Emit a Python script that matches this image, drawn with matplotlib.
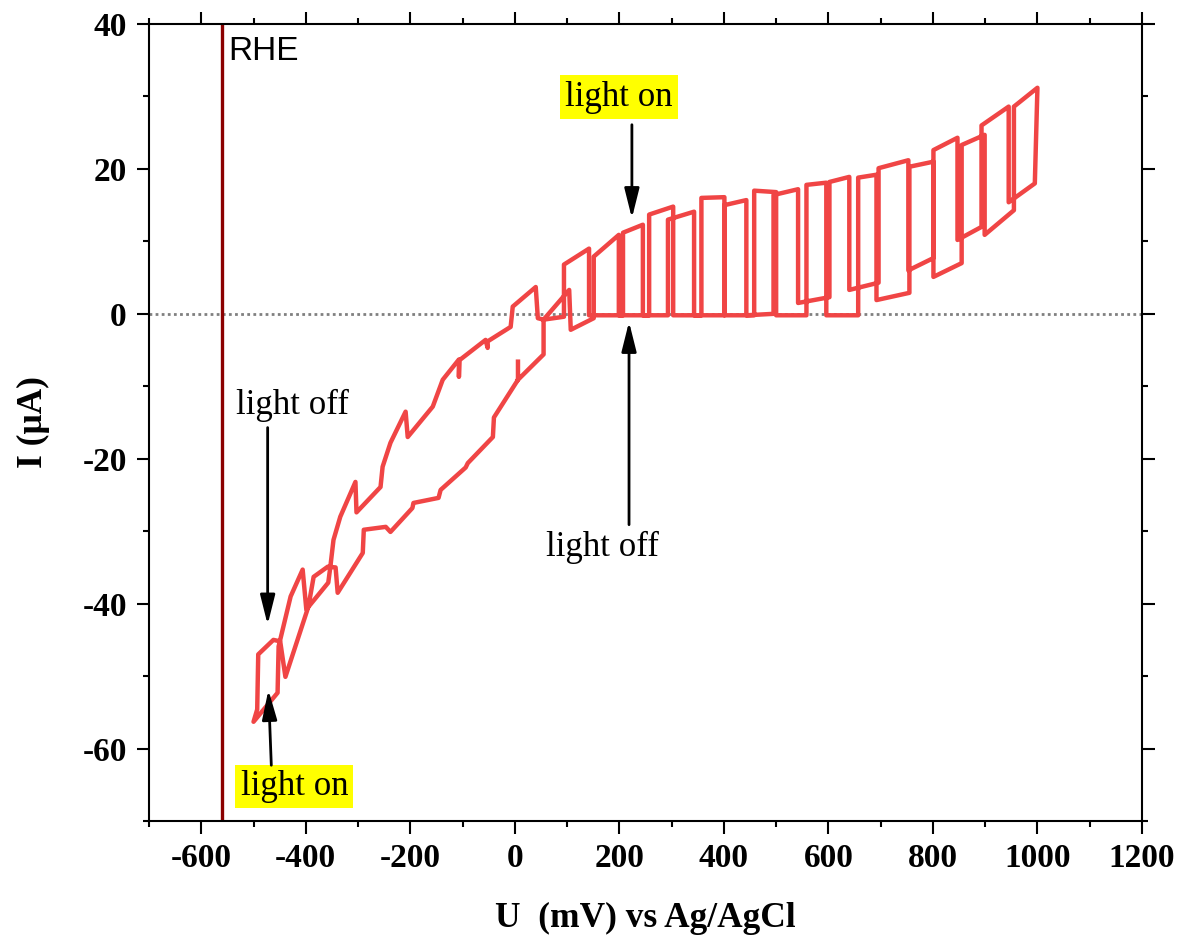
import numpy as np
import matplotlib.pyplot as plt
from matplotlib.ticker import MultipleLocator

# --- chopped CV (U in mV vs Ag/AgCl, I in uA) ---
# low-potential loop: start tick, lower branch going to -500 mV, then upper branch back up
loop_u = [6, 6, -40, -42, -90, -94, -142, -146, -194, -196, -238, -247, -289, -291,
          -339, -343, -358, -385, -395, -439, -449, -462, -491, -493, -500,
          -454, -452, -429, -406, -399, -357, -353, -347, -334, -305, -303, -257,
          -253, -238, -209, -205, -157, -138, -107, -107, -106, -56, -52, -52,
          -8, -4, 40, 44, 55, 104, 107, 151]
loop_i = [-6.6, -9.1, -14.3, -17.0, -20.6, -21.2, -24.3, -25.4, -26.1, -26.8, -30.1, -29.4,
          -29.8, -33.0, -38.5, -35.0, -34.9, -36.3, -40.4, -50.1, -45.2, -45.0, -47.0,
          -54.6, -56.3, -52.3, -45.9, -39.0, -35.3, -40.8, -37.1, -34.9, -31.2, -28.0,
          -23.2, -27.4, -23.9, -21.1, -17.8, -13.5, -17.0, -12.8, -9.1, -6.3, -8.7,
          -6.4, -3.6, -4.7, -3.8, -1.8, 1.0, 3.7, -0.6, -0.8, 3.3, -2.2, -0.6]

# forward scan, light-on windows
fwd_on_start = [151, 257, 357, 458, 558, 657, 755, 855, 955]
fwd_on_end = [199, 303, 401, 500, 596, 692, 801, 899, 1000]
fwd_top_start = [7.9, 13.7, 16.0, 17.0, 17.8, 18.8, 20.3, 23.3, 28.6]
fwd_top_end = [10.9, 14.8, 16.1, 16.8, 18.1, 19.2, 21.0, 24.7, 31.2]
fwd_dark_start = [-0.2, -0.2, -0.2, -0.2, -0.2, 1.9, 5.1, 10.9]
fwd_dark_end = [-0.2, -0.2, -0.2, -0.2, -0.2, 2.9, 7.0, 14.3]

# reverse scan (1000 -> 55 mV)
rev_dark_from = [995, 893, 801, 696, 602, 495, 401, 293, 207, 94]
rev_dark_to = [945, 847, 753, 640, 542, 443, 343, 245, 142, 55]
rev_dark_start = [18.0, 12.0, 7.7, 4.3, 2.3, 0.0, -0.2, -0.2, -0.2, -0.4]
rev_dark_end = [15.4, 10.2, 6.0, 3.3, 1.5, -0.2, -0.2, -0.2, -0.2, -0.8]
rev_top_start = [28.6, 24.3, 21.2, 18.9, 17.2, 15.7, 14.1, 12.3, 9.0]
rev_top_end = [26.0, 22.6, 20.1, 18.2, 16.4, 15.0, 13.0, 11.2, 6.8]

tail_u = [55, 6]
tail_i = [-5.6, -9.1]

u_rhe = -560

# build the trace
U = list(loop_u)
I = list(loop_i)
for k in range(len(fwd_on_start)):
    U += [fwd_on_start[k], fwd_on_end[k]]
    I += [fwd_top_start[k], fwd_top_end[k]]
    if k < len(fwd_dark_start):
        U += [fwd_on_end[k], fwd_on_start[k + 1]]
        I += [fwd_dark_start[k], fwd_dark_end[k]]
for k in range(len(rev_dark_from)):
    U += [rev_dark_from[k], rev_dark_to[k]]
    I += [rev_dark_start[k], rev_dark_end[k]]
    if k < len(rev_top_start):
        U += [rev_dark_to[k], rev_dark_from[k + 1]]
        I += [rev_top_start[k], rev_top_end[k]]
U += tail_u
I += tail_i

plt.rcParams['font.family'] = ['Liberation Serif', 'DejaVu Serif']
plt.rcParams['axes.unicode_minus'] = False

fig = plt.figure(figsize=(11.78, 9.38), dpi=100)
ax = fig.add_axes([0.1265, 0.1247, 0.8429, 0.8497])

ax.axhline(0, color='#808080', lw=2, ls=(0, (1, 1.2)), zorder=1)
ax.axvline(u_rhe, color='#8B0000', lw=2.4, zorder=2)
ax.plot(U, I, color='#F04545', lw=3.2, solid_joinstyle='round', zorder=3)

ax.set_xlim(-700, 1200)
ax.set_ylim(-70, 40)
ax.xaxis.set_major_locator(MultipleLocator(200))
ax.xaxis.set_minor_locator(MultipleLocator(100))
ax.yaxis.set_major_locator(MultipleLocator(20))
ax.yaxis.set_minor_locator(MultipleLocator(10))
ax.tick_params(which='both', direction='out', top=True, right=True, width=1.5)
ax.tick_params(which='major', length=9, pad=7, labelsize=24)
ax.tick_params(which='minor', length=4.5)
for lab in ax.get_xticklabels() + ax.get_yticklabels():
    lab.set_fontweight('bold')
for s in ax.spines.values():
    s.set_linewidth(1.5)

ax.set_xlabel('U  (mV) vs Ag/AgCl', fontsize=25.5, fontweight='bold', labelpad=20)
ax.set_ylabel('I (μA)', fontsize=25.5, fontweight='bold', labelpad=23)

ax.text(-548, 38.4, 'RHE', family='Liberation Sans', fontsize=24, va='top', ha='left')

box = dict(boxstyle='square,pad=0.15', fc='#FFFF00', ec='none')
ax.text(199, 29.9, 'light on', fontsize=25, ha='center', va='center', bbox=box)
ax.text(-422, -65.2, 'light on', fontsize=25, ha='center', va='center', bbox=box)
ax.text(-425, -12.6, 'light off', fontsize=25, ha='center', va='center')
ax.text(167, -32.3, 'light off', fontsize=25, ha='center', va='center')

arrow = dict(arrowstyle='-|>,head_length=1.8,head_width=0.45', color='black',
             lw=2, shrinkA=0, shrinkB=0, mutation_scale=10)
ax.annotate('', xy=(224, 13.2), xytext=(224, 26.1), arrowprops=arrow)
ax.annotate('', xy=(218.5, -1.1), xytext=(218.5, -29.1), arrowprops=arrow)
ax.annotate('', xy=(-473, -42.9), xytext=(-473, -15.7), arrowprops=arrow)
ax.annotate('', xy=(-471.5, -51.9), xytext=(-466, -62.3), arrowprops=arrow)

fig.savefig('out.png', dpi=100)
